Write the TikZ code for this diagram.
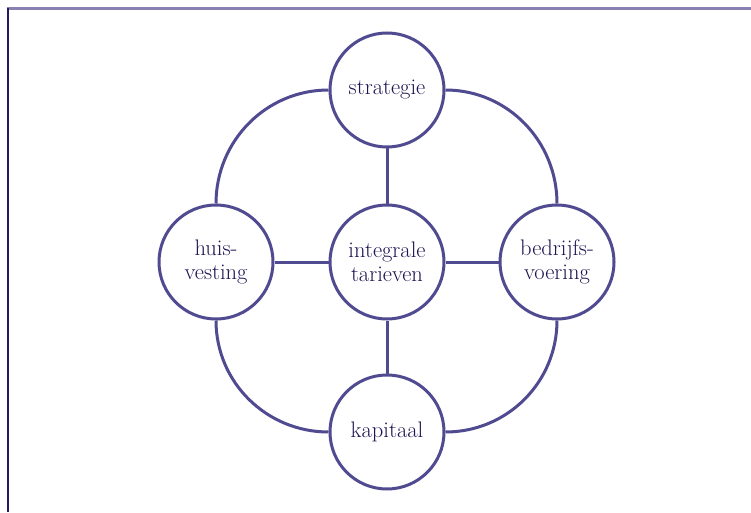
\documentclass[tikz,border=0pt]{standalone}
\usepackage{fontspec}
\usepackage{tikz}
\usepackage{xcolor}
\usetikzlibrary{positioning}

\definecolor{ringblue}{RGB}{80,74,145}
\definecolor{textnavy}{RGB}{30,20,82}
\definecolor{framelight}{RGB}{138,128,178}
\definecolor{framedark}{RGB}{36,28,96}

\begin{document}
\begin{tikzpicture}[x=1pt,y=1pt,
    theme/.style={circle,draw=ringblue,line width=3pt,fill=white,
      minimum size=114pt,inner sep=0pt,align=center,text=textnavy,
      font=\fontsize{22.5}{24}\selectfont},
    link/.style={draw=ringblue,line width=3pt}]
  \useasboundingbox (0,0) rectangle (751,512);

  % Frame
  \draw[framelight,line width=2.5pt] (6.5,503.5) -- (751,503.5);
  \draw[framedark,line width=2pt] (7.5,504) -- (7.5,0);

  % Themes
  \node[theme] (mid) at (387,250) {integrale\\tarieven};
  \node[theme] (top) at (387,422) {strategie};
  \node[theme] (bot) at (387,80) {kapitaal};
  \node[theme] (lft) at (216,250) {huis-\\vesting};
  \node[theme] (rgt) at (557,250) {bedrijfs-\\voering};

  % Spokes
  \draw[link] (mid.north) -- (top.south);
  \draw[link] (mid.south) -- (bot.north);
  \draw[link] (mid.west) -- (lft.east);
  \draw[link] (mid.east) -- (rgt.west);

  % Outer ring
  \draw[link] (top.west) to[out=180,in=90] (lft.north);
  \draw[link] (lft.south) to[out=-90,in=180] (bot.west);
  \draw[link] (bot.east) to[out=0,in=-90] (rgt.south);
  \draw[link] (rgt.north) to[out=90,in=0] (top.east);
\end{tikzpicture}
\end{document}
